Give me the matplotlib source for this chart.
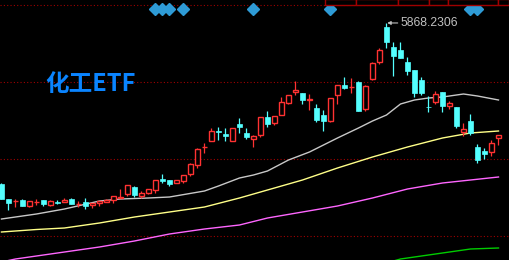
import numpy as np
import matplotlib
matplotlib.use("Agg")
import matplotlib.pyplot as plt
from matplotlib.patches import Rectangle

plt.rcParams['font.family'] = ['Noto Sans CJK SC', 'DejaVu Sans']

# daily candles (open, high, low, close)
opens = [4580, 4460, 4442, 4452, 4404, 4434, 4452, 4412, 4440, 4436,
         4460, 4420, 4436, 4414, 4428, 4436, 4452, 4470, 4500, 4556,
         4484, 4508, 4532, 4622, 4612, 4588, 4604, 4660, 4732, 4874,
         4924, 5004, 4980, 4924, 5060, 4988, 4940, 4972, 5116, 5068,
         5132, 5228, 5316, 5308, 5256, 5188, 5132, 5084, 5292, 5372,
         5354, 5396, 5180, 5420, 5556, 5836, 5676, 5652, 5556, 5492,
         5412, 5198, 5236, 5316, 5204, 5196, 4996, 5084, 4876, 4844,
         4836, 4948]
highs = [4588, 4460, 4460, 4460, 4444, 4460, 4452, 4452, 4452, 4468,
         4468, 4444, 4468, 4428, 4444, 4462, 4484, 4540, 4572, 4564,
         4524, 4540, 4612, 4660, 4612, 4612, 4652, 4748, 4868, 4908,
         5028, 5036, 5028, 5028, 5108, 5028, 4972, 5116, 5164, 5124,
         5276, 5292, 5404, 5308, 5300, 5220, 5172, 5268, 5372, 5436,
         5428, 5404, 5372, 5556, 5668, 5868.2306, 5716, 5716, 5596, 5492,
         5436, 5284, 5324, 5316, 5244, 5196, 5068, 5140, 4900, 4868,
         4932, 4972]
lows = [4460, 4372, 4396, 4404, 4396, 4412, 4404, 4404, 4420, 4436,
        4420, 4396, 4380, 4390, 4404, 4436, 4428, 4468, 4484, 4476,
        4468, 4500, 4508, 4588, 4564, 4588, 4588, 4644, 4708, 4828,
        4924, 4932, 4924, 4924, 4988, 4940, 4876, 4956, 5036, 5052,
        5132, 5220, 5292, 5220, 5172, 5076, 5004, 5076, 5220, 5340,
        5308, 5164, 5164, 5412, 5540, 5668, 5444, 5588, 5452, 5276,
        5292, 5156, 5220, 5156, 5180, 5028, 4964, 4972, 4748, 4780,
        4804, 4892]
closes = [4460, 4428, 4446, 4404, 4444, 4438, 4420, 4444, 4432, 4452,
          4420, 4424, 4406, 4428, 4444, 4452, 4484, 4474, 4572, 4492,
          4508, 4540, 4612, 4602, 4580, 4612, 4652, 4740, 4860, 4878,
          5004, 4996, 4964, 5028, 5036, 4956, 4964, 5116, 5060, 5124,
          5236, 5292, 5332, 5252, 5260, 5092, 5084, 5268, 5372, 5348,
          5358, 5164, 5364, 5548, 5652, 5716, 5604, 5588, 5484, 5308,
          5308, 5194, 5300, 5204, 5228, 5044, 5020, 4988, 4772, 4820,
          4908, 4972]

# moving averages, read at some candle positions
ma1_idx = [0, 5, 9, 14, 17, 21, 24, 29, 31, 34, 36, 38, 41, 44, 48, 51, 53, 55, 57, 59, 61, 63, 66, 68, 71]
ma1 = [4300, 4340, 4380, 4444, 4460, 4468, 4476, 4524, 4564, 4628, 4652, 4684, 4772,
       4836, 4948, 5028, 5084, 5132, 5220, 5252, 5268, 5276, 5300, 5284, 5252]
ma2_idx = [0, 5, 9, 14, 19, 24, 29, 34, 38, 43, 48, 53, 58, 63, 67, 71]
ma2 = [4196, 4216, 4228, 4268, 4316, 4356, 4396, 4468, 4532, 4612, 4708, 4796, 4876, 4948, 4988, 5004]
ma3_idx = [0, 2, 9, 14, 19, 24, 29, 34, 38, 43, 48, 53, 58, 63, 67, 71]
ma3 = [3956, 3980, 4036, 4076, 4124, 4180, 4220, 4252, 4308, 4356, 4404, 4468, 4540, 4588, 4612, 4636]
ma4_idx = [56, 57, 63, 67, 71]
ma4 = [3964, 3980, 4028, 4060, 4068]

signal_idx = [22, 23, 24, 26, 36, 47, 67, 68]
grid_levels = [6012, 5396, 4780, 4164]

title = "化工ETF"
peak_label = "5868.2306"

UP = "#ff3232"
DOWN = "#54ffff"
BG = "black"

fig = plt.figure(figsize=(5.09, 2.60), dpi=100, facecolor=BG)
ax = fig.add_axes([0, 0, 1, 1], facecolor=BG)
ax.set_xlim(-0.21, 72.5)
ax.set_ylim(3972, 6052)
ax.axis("off")

for lv in grid_levels:
    ax.axhline(lv, color="#a00000", lw=0.8, ls=(0, (1, 2)), zorder=1)

ax.plot(ma1_idx, ma1, color="#c8c8c8", lw=1.0, zorder=2)
ax.plot(ma2_idx, ma2, color="#ffff88", lw=1.0, zorder=2)
ax.plot(ma3_idx, ma3, color="#ff66ff", lw=1.0, zorder=2)
ax.plot(ma4_idx, ma4, color="#00cc00", lw=1.0, zorder=2)

for i, (o, h, l, c) in enumerate(zip(opens, highs, lows, closes)):
    up = c >= o
    col = UP if up else DOWN
    ax.vlines(i, l, h, color=col, lw=0.9, zorder=3)
    lo, hi = min(o, c), max(o, c)
    if up:
        ax.add_patch(Rectangle((i - 0.3, lo), 0.6, max(hi - lo, 1),
                               facecolor=BG, edgecolor=col, lw=1.0, zorder=4))
    else:
        ax.add_patch(Rectangle((i - 0.35, lo), 0.7, max(hi - lo, 6),
                               facecolor=col, edgecolor=col, lw=0.5, zorder=4))

# signal markers along the top
ax.plot(signal_idx, [0.965] * len(signal_idx), ls="none", marker="D", ms=6,
        color="#2e9bd6", transform=ax.get_xaxis_transform(), zorder=5)

# peak annotation
pk = int(np.argmax(highs))
ax.annotate(peak_label, xy=(pk + 0.1, highs[pk]), xytext=(pk + 2.0, highs[pk]),
            color="#c0c0c0", fontsize=8.7, family=["Liberation Sans"], va="center",
            arrowprops=dict(arrowstyle="-|>", color="#c0c0c0", lw=0.8,
                            mutation_scale=5, shrinkA=0, shrinkB=0), zorder=6)

ax.text(45 / 509, 1 - 84 / 260, title, transform=ax.transAxes, color="#0a84ff",
        fontsize=17, fontweight="heavy", va="center", ha="left", zorder=6)

# cut-off toolbar at the top right
bar_edges = [325, 356, 398, 429, 448, 498, 509]
for a, b in zip(bar_edges[:-1], bar_edges[1:]):
    fig.add_artist(Rectangle((a / 509, 1 - 5 / 260), (b - a) / 509, 6 / 260,
                             transform=fig.transFigure, facecolor=BG,
                             edgecolor="#a00000", lw=1.0, zorder=7))

fig.savefig("out.png", dpi=100, facecolor=BG)
